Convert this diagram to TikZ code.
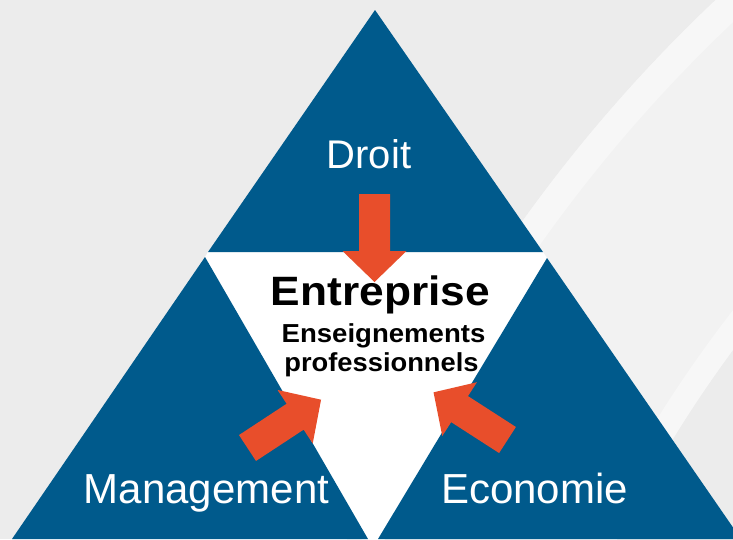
\documentclass[tikz,border=0pt]{standalone}
\usepackage{fontspec}
\setmainfont{Liberation Sans}
\usepackage{graphicx}
\definecolor{bgA}{HTML}{ECECEC}
\definecolor{bgB}{HTML}{F2F2F2}
\definecolor{bandC}{HTML}{F7F7F7}
\definecolor{triblue}{HTML}{005A8C}
\definecolor{arroworange}{HTML}{E84E2B}
\tikzset{
  tri/.style={fill=triblue},
  corner/.style={text=white,anchor=base,inner sep=0pt,font=\fontsize{42}{48}\selectfont},
  centertext/.style={text=black,anchor=base,inner sep=0pt},
  blockarrow/.pic={\fill[arroworange] (0,-15.5) -- (57,-15.5) -- (57,-32) -- (88,0) -- (57,32) -- (57,15.5) -- (0,15.5) -- cycle;}
}
\begin{document}
\begin{tikzpicture}[x=1pt,y=-1pt]
\useasboundingbox (0,0) rectangle (733,539);
\clip (0,0) rectangle (733,539);
% background
\fill[bgA] (0,0) rectangle (733,539);
\fill[bgB] (1762,1108) circle (1524);
\draw[bandC,line width=28] (1762,1108) circle (1510);
\fill[bgA] (1762,1108) circle (1278);
\draw[bandC,line width=24] (1762,1108) circle (1290);
% white centre
\fill[white] (208,252) -- (543,252) -- (547,258) -- (373,560) -- (205,257) -- cycle;
% triangles
\fill[tri] (375,10) -- (543,252) -- (208,252) -- cycle;
\fill[tri] (205,257) -- (368,539) -- (12,539) -- cycle;
\fill[tri] (547,258) -- (741,539) -- (378,539) -- cycle;
% arrows
\pic[rotate=-90] at (374.5,194) {blockarrow};
\pic[rotate=33.3] at (247.5,448) {blockarrow};
\pic[rotate=147.2] at (507.5,440) {blockarrow};
% labels
\node[corner,font=\fontsize{40}{48}\selectfont] (droit) at (369,168) {Droit};
\node[corner] (mgmt) at (206.5,503) {Management};
\node[corner] (eco) at (534.5,503) {Economie};
\node[centertext,font=\bfseries\fontsize{41}{46}\selectfont] (ent) at (380.5,305) {\scalebox{1.08}[1]{Entreprise}};
\node[centertext,font=\bfseries\fontsize{26}{30}\selectfont] (ens) at (383.5,342) {\scalebox{1.06}[1]{Enseignements}};
\node[centertext,font=\bfseries\fontsize{26}{30}\selectfont] (pro) at (381.5,371) {\scalebox{1.05}[1]{professionnels}};
\end{tikzpicture}
\end{document}
